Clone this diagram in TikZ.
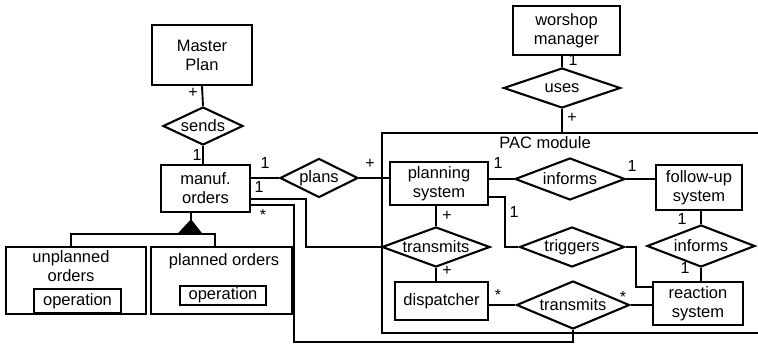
\documentclass[tikz,border=0pt]{standalone}
\usepackage{fontspec}
\setmainfont{Liberation Sans}
\usetikzlibrary{shapes.geometric,calc}
\begin{document}
\begin{tikzpicture}[x=1pt,y=-1pt,
  every node/.style={font=\fontsize{16.5}{19}\selectfont},
  ent/.style={draw, line width=2.1pt, rectangle, inner sep=0pt, align=center},
  rel/.style={draw, line width=2.1pt, diamond, inner sep=0pt},
  conn/.style={line width=1.9pt},
  lab/.style={inner sep=0pt, font=\fontsize{16}{16}\selectfont},
  txt/.style={inner sep=0pt, align=center}
]
\useasboundingbox (0,0) rectangle (758,344);

% PAC module container
\draw[line width=2.1pt] (760,133) -- (382,133) -- (382,333) -- (760,333);
\node[txt] (pac) at (545,143) {PAC module};

% entities
\node[ent, minimum width=100pt, minimum height=60pt] (master) at (202,55) {Master\\Plan};
\node[ent, minimum width=89pt, minimum height=47pt] (manuf) at (205.5,188.5) {manuf.\\orders};
\node[ent, minimum width=140pt, minimum height=67pt] (unpl) at (76,280.5) {};
\node[txt] (unpltxt) at (71,266) {unplanned\\orders};
\node[ent, minimum width=87pt, minimum height=24pt] (op1) at (77.5,301) {operation};
\node[ent, minimum width=141pt, minimum height=67pt] (pl) at (221.5,280.5) {};
\node[txt] (pltxt) at (224,261) {planned orders};
\node[ent, minimum width=86pt, minimum height=19pt] (op2) at (223,295.5) {operation};
\node[ent, minimum width=98pt, minimum height=43pt] (planning) at (439,183.5) {planning\\system};
\node[ent, minimum width=86pt, minimum height=45pt] (followup) at (699,187.5) {follow-up\\system};
\node[ent, minimum width=90pt, minimum height=43pt] (reaction) at (698,303.5) {reaction\\system};
\node[ent, minimum width=93pt, minimum height=38pt] (dispatcher) at (441.5,301) {dispatcher};
\node[ent, minimum width=107pt, minimum height=49pt] (worshop) at (566.5,30.5) {worshop\\manager};

% relationships
\node[rel, minimum width=80pt, minimum height=38pt, aspect=2.1] (sends) at (203,126) {sends};
\node[rel, minimum width=78pt, minimum height=39pt, aspect=2] (plans) at (319,178) {plans};
\node[rel, minimum width=110pt, minimum height=42pt, aspect=2.62] (informsA) at (570,179) {informs};
\node[rel, minimum width=108pt, minimum height=42pt, aspect=2.57] (informsB) at (701,246) {informs};
\node[rel, minimum width=105pt, minimum height=40pt, aspect=2.62] (triggers) at (572,247) {triggers};
\node[rel, minimum width=108pt, minimum height=40pt, aspect=2.7] (transA) at (436,247) {transmits};
\node[rel, minimum width=113pt, minimum height=48pt, aspect=2.35] (transB) at (573,305) {transmits};
\node[rel, minimum width=117pt, minimum height=40pt, aspect=2.9] (uses) at (562,88) {uses};

% inheritance triangle
\coordinate (apex) at (191,220);
\coordinate (bar) at (191,234);
\filldraw[line width=1pt] (apex) -- (178,234) -- (202,234) -- cycle;
\draw[conn] (apex |- manuf.south) -- (apex);
\draw[conn] (unpl.north -| 71,0) -- (71,234) -- (215,234) -- (pl.north -| 215,0);

% connectors
\draw[conn] (master.south) -- (sends.north);
\draw[conn] (sends.south) -- (sends.south |- manuf.north);
\draw[conn] (plans.west -| manuf.east) -- (plans.west);
\draw[conn] (plans.east) -- (plans.east -| planning.west);
\draw[conn] ([yshift=-10.5pt]manuf.east) -- (306,199) -- (306,247) -- (transA.west);
\draw[conn] ([yshift=-16.5pt]manuf.east) -- (294,205) -- (294,342) -- (573,342) -- (transB.south);
\draw[conn] (informsA.west -| planning.east) -- (informsA.west);
\draw[conn] (informsA.east) -- (informsA.east -| followup.west);
\draw[conn] (informsB.north |- followup.south) -- (informsB.north);
\draw[conn] (informsB.south) -- (informsB.south |- reaction.north);
\draw[conn] ([yshift=-13.5pt]planning.east) -- (505,197) -- (505,247) -- (triggers.west);
\draw[conn] (triggers.east) -- (636,247) -- (636,287) -- (636,287 -| reaction.west);
\draw[conn] (transA.north |- planning.south) -- (transA.north);
\draw[conn] (transA.south) -- (transA.south |- dispatcher.north);
\draw[conn] (transB.west -| dispatcher.east) -- (transB.west);
\draw[conn] (transB.east) -- (transB.east -| reaction.west);
\draw[conn] (uses.north |- worshop.south) -- (uses.north);
\draw[conn] (uses.south) -- (562,133);

% cardinality labels
\node[lab] (l1) at (193,93) {+};
\node[lab] (l2) at (197,155) {1};
\node[lab] (l3) at (265,163) {1};
\node[lab] (l4) at (370,164) {+};
\node[lab] (l5) at (259,187) {1};
\node[lab] (l6) at (263,215) {*};
\node[lab] (l7) at (498,163) {1};
\node[lab] (l8) at (632,166) {1};
\node[lab] (l9) at (514,212) {1};
\node[lab] (l10) at (447,216) {+};
\node[lab] (l11) at (447,271) {+};
\node[lab] (l12) at (498,295) {*};
\node[lab] (l13) at (623,297) {*};
\node[lab] (l14) at (682,219) {1};
\node[lab] (l15) at (685,268) {1};
\node[lab] (l16) at (573,60) {1};
\node[lab] (l17) at (572,118) {+};
\end{tikzpicture}
\end{document}
